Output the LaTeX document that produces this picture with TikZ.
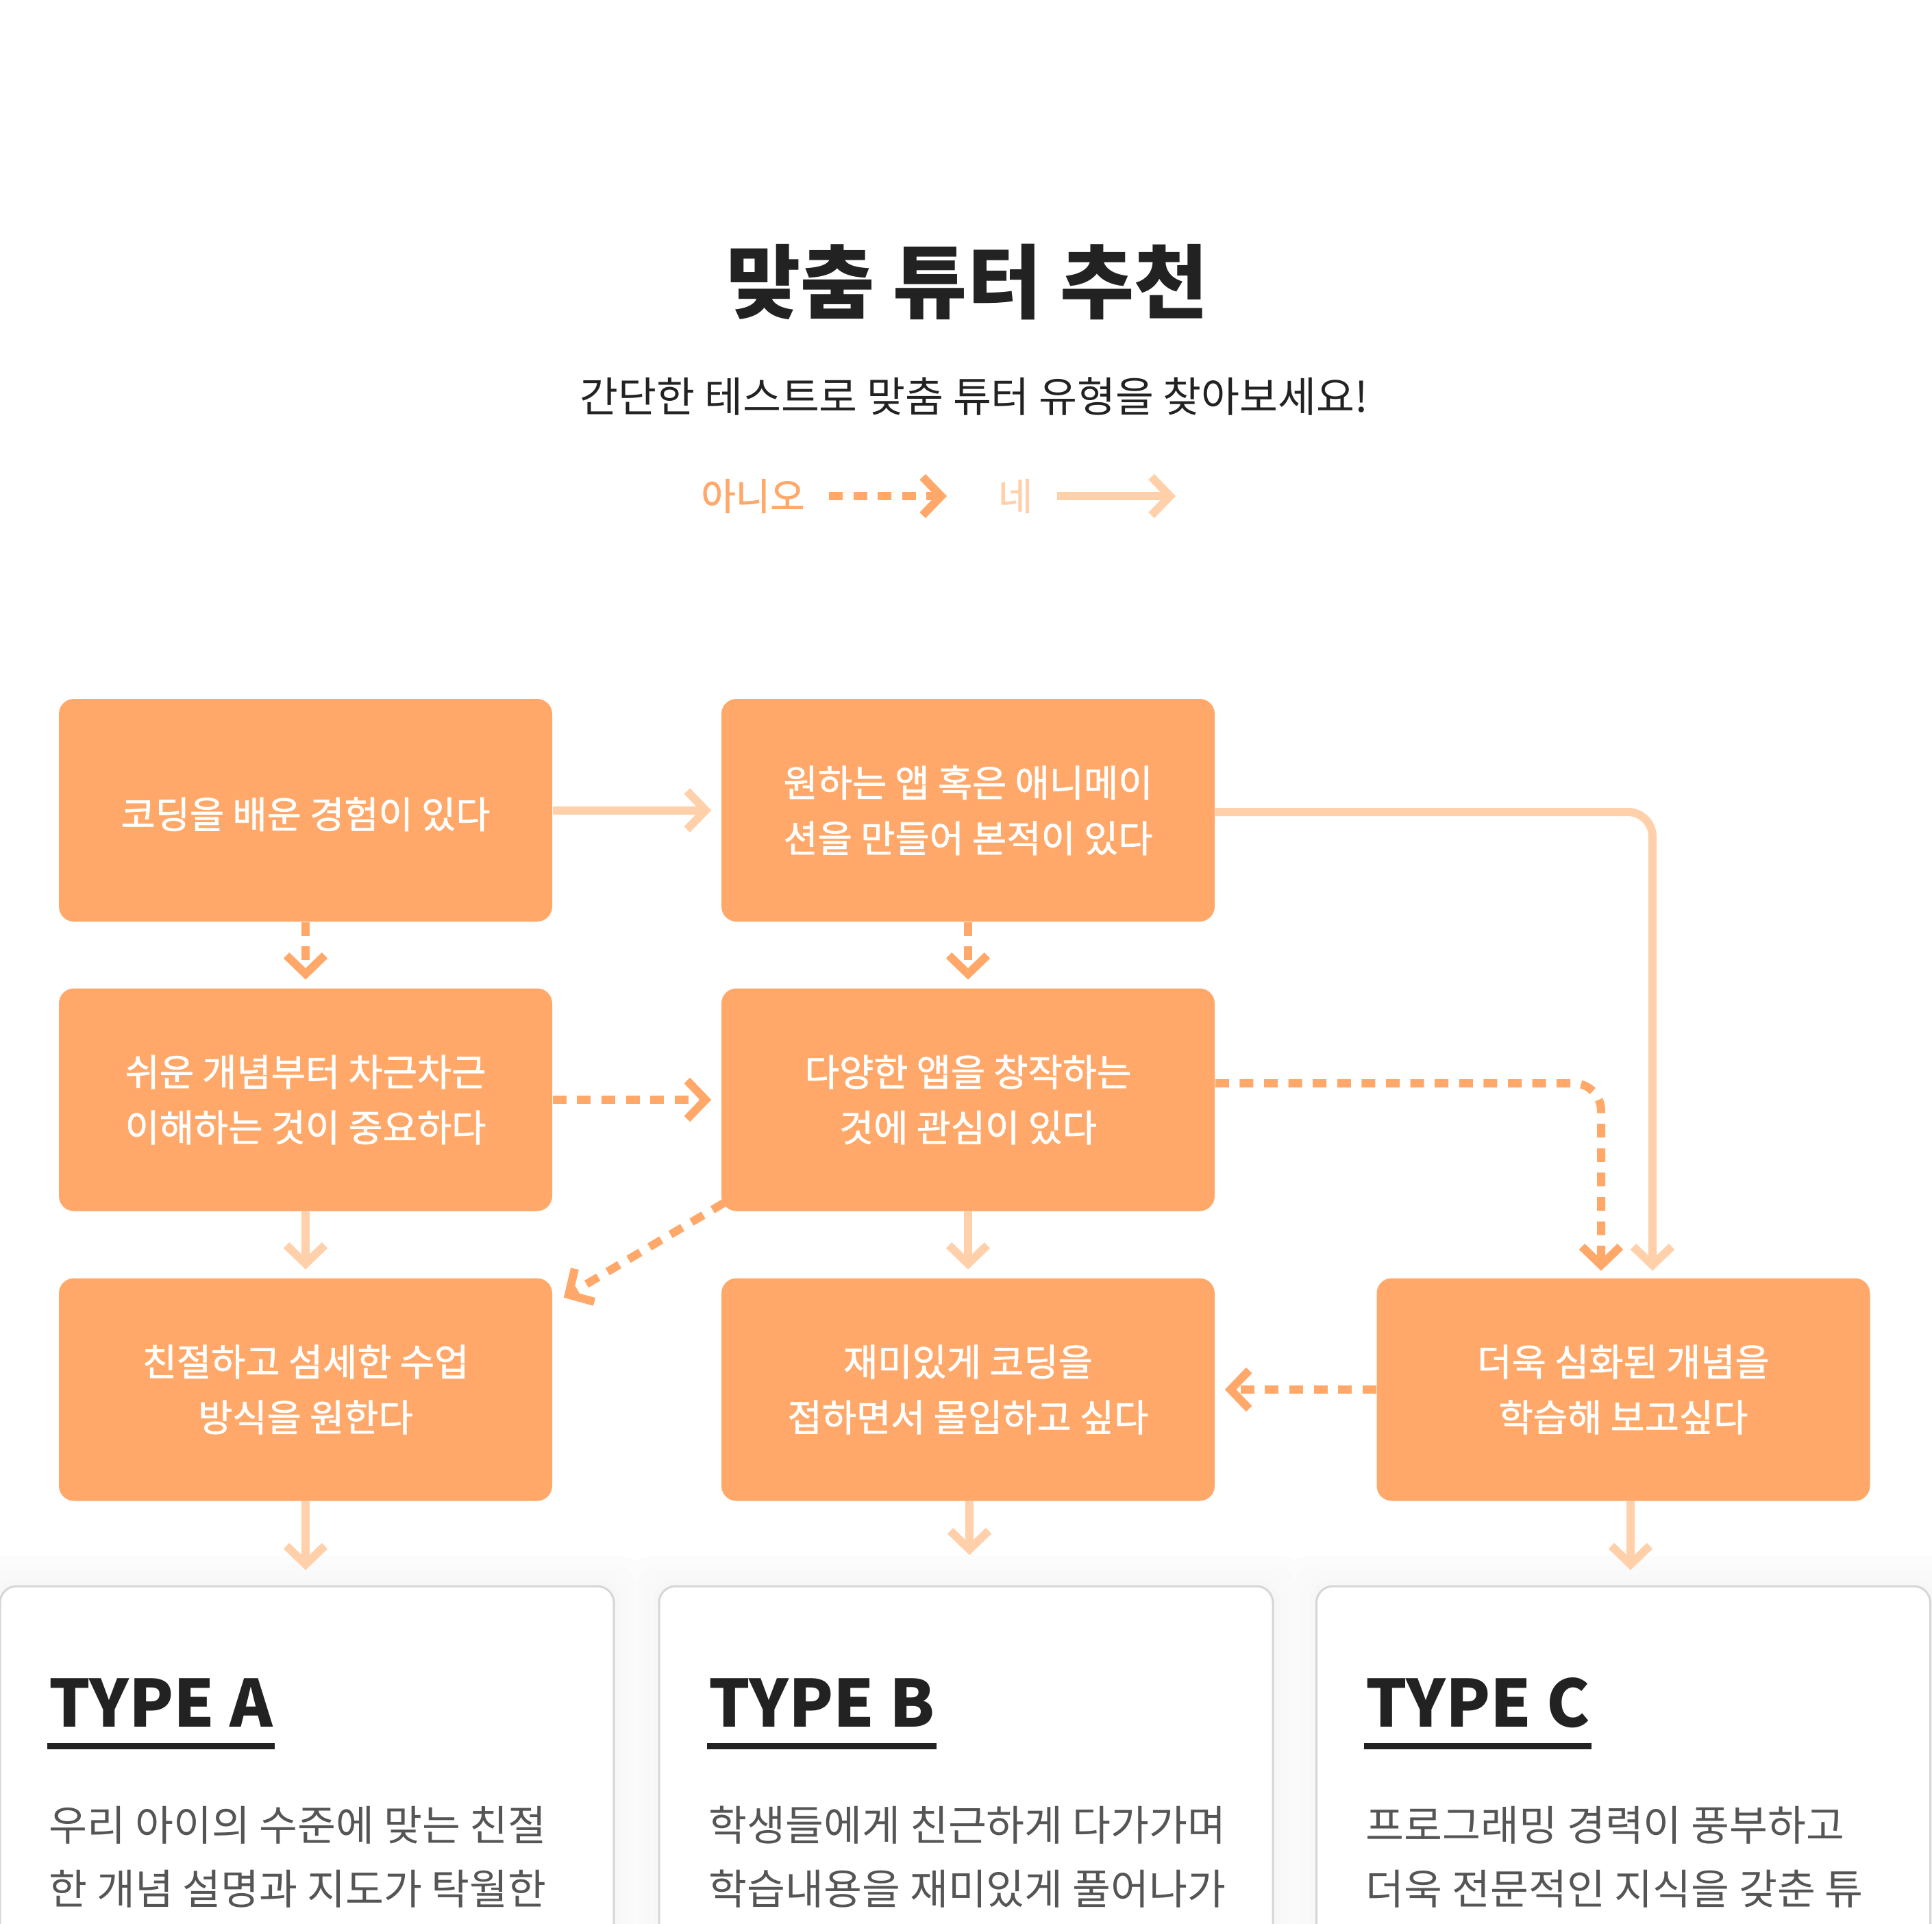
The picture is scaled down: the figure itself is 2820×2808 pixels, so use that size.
\documentclass[tikz,border=0pt]{standalone}
\usepackage{fontspec}
\setmainfont{Noto Sans CJK KR}
\newfontfamily\medfont{Noto Sans CJK KR}[FakeBold=1.3]
\usetikzlibrary{arrows.meta}
\definecolor{boxc}{HTML}{FFA869}
\definecolor{yesc}{HTML}{FFD0AA}
\definecolor{titlec}{HTML}{222222}
\definecolor{bodyc}{HTML}{555555}
\definecolor{cardline}{HTML}{D6D6D6}
\begin{document}
\begin{tikzpicture}[x=0.25pt,y=-0.25pt,
  flow/.style={rectangle, rounded corners=5.5pt, fill=boxc, text=white,
    minimum width=180pt, minimum height=81.25pt, inner sep=0pt, align=center,
    font=\medfont\fontsize{13.65}{20.25}\selectfont},
  yesline/.style={draw=yesc, line width=3pt, -{Straight Barb[length=6.75pt,width=14pt]}},
  noline/.style={draw=boxc, line width=3pt, dash pattern=on 5pt off 3.9pt,
    -{Straight Barb[length=6.75pt,width=14pt]}},
  card/.style={rectangle, rounded corners=6pt, draw=cardline, line width=0.75pt,
    fill=white, minimum width=224pt, minimum height=150pt, inner sep=0pt},
  typelbl/.style={anchor=base west, inner sep=0pt, text=titlec,
    font=\bfseries\fontsize{23.75}{28}\selectfont},
  bodyline/.style={anchor=base west, inner sep=0pt, text=bodyc,
    font=\fontsize{15.2}{20}\selectfont},
  uline/.style={draw=titlec, line width=2.25pt}
]
\useasboundingbox (0,0) rectangle (2820,2808);
\fill[white] (0,0) rectangle (2820,2808);

% title
\node[inner sep=0pt, text=titlec, font=\bfseries\fontsize{29.4}{36}\selectfont] (title) at (1412,412) {맞춤 튜터 추천};
\node[inner sep=0pt, text=titlec, font=\fontsize{15.2}{18}\selectfont] (sub) at (1422,579) {간단한 테스트로 맞춤 튜터 유형을 찾아보세요!};

% legend
\node[inner sep=0pt, text=boxc, font=\medfont\fontsize{13.7}{16}\selectfont] (lno) at (1099,724) {아니오};
\node[inner sep=0pt, text=yesc, font=\medfont\fontsize{13.7}{16}\selectfont] (lyes) at (1482,724) {네};
\coordinate (lna) at (1210,724);
\coordinate (lnb) at (1382,724);
\coordinate (lya) at (1543,724);
\coordinate (lyb) at (1716,724);
\draw[noline] (lna) -- (lnb);
\draw[yesline] (lya) -- (lyb);

% cards (shadow + card)
\foreach \e/\c in {44/black!1.2, 32/black!1.8, 20/black!2.4, 9/black!3}{
  \fill[\c, rounded corners=8pt] (0-\e,2315-\e) rectangle (896+\e,2950);
  \fill[\c, rounded corners=8pt] (962-\e,2315-\e) rectangle (1858+\e,2950);
  \fill[\c, rounded corners=8pt] (1921-\e,2315-\e) rectangle (2818+\e,2950);
}
\node[card] (cA) at (448,2615) {};
\node[card] (cB) at (1410,2615) {};
\node[card] (cC) at (2369.5,2615) {};

% flow boxes
\node[flow] (b1) at (446,1182.5) {\raisebox{-1.4pt}[\height][\depth]{코딩을 배운 경험이 있다}};
\node[flow] (b2) at (1413,1182.5) {원하는 앱 혹은 애니메이\\션을 만들어 본적이 있다};
\node[flow] (b4) at (446,1605) {쉬운 개념부터 차근차근\\이해하는 것이 중요하다};
\node[flow] (b5) at (1413,1605) {다양한 앱을 창작하는\\것에 관심이 있다};
\node[flow] (b7) at (446,2028) {친절하고 섬세한 수업\\방식을 원한다};
\node[flow] (b8) at (1413,2028) {재미있게 코딩을\\접하면서 몰입하고 싶다};
\node[flow] (b9) at (2369.5,2028) {더욱 심화된 개념을\\학습해 보고싶다};

\coordinate (aA) at ([shift={(0,-22)}]cA.north);
\coordinate (aB) at ([shift={(0,-22)}]cB.north);
\coordinate (aC) at ([shift={(10.5,-22)}]cC.north);

% yes connectors
\draw[yesline] (b1.east) -- ([shift={(-14,0)}]b2.west);
\draw[yesline, rounded corners=9pt] ([shift={(0,2.5)}]b2.east) -| ([shift={(42.5,-10)}]b9.north);
\draw[yesline] (b4.south) -- ([shift={(0,-12)}]b7.north);
\draw[yesline] (b5.south) -- ([shift={(0,-12)}]b8.north);
\draw[yesline] (b7.south) -- (b7.south |- aA);
\draw[yesline] ([shift={(2,0)}]b8.south) -- ([shift={(2,-22)}]b8.south |- aB);
\draw[yesline] ([shift={(10.5,0)}]b9.south) -- (aC);

% no connectors
\draw[noline] (b1.south) -- ([shift={(0,-12)}]b4.north);
\draw[noline] (b2.south) -- ([shift={(0,-12)}]b5.north);
\draw[noline] (b4.east) -- ([shift={(-14,0)}]b5.west);
\draw[noline, rounded corners=10pt] ([shift={(0,-24)}]b5.east) -| ([shift={(-32.5,-10)}]b9.north);
\draw[noline] ([shift={(5,-13)}]b5.south west) -- ([shift={(16,29)}]b7.north east);
\draw[noline] (b9.west) -- ([shift={(14,0)}]b8.east);

% card contents
\node[typelbl] (tA) at (71,2520) {TYPE A};
\node[typelbl] (tB) at (1034,2520) {TYPE B};
\node[typelbl] (tC) at (1993,2520) {TYPE C};
\draw[uline] ([shift={(-2,28.5)}]tA.base west) -- ([shift={(2,28.5)}]tA.base east);
\draw[uline] ([shift={(-2,28.5)}]tB.base west) -- ([shift={(2,28.5)}]tB.base east);
\draw[uline] ([shift={(-2,28.5)}]tC.base west) -- ([shift={(2,28.5)}]tC.base east);

\node[bodyline] (pA1) at (71,2686) {우리 아이의 수준에 맞는 친절};
\node[bodyline] (pA2) at (71,2779) {한 개념 설명과 지도가 탁월한};
\node[bodyline] (pB1) at (1034,2686) {학생들에게 친근하게 다가가며};
\node[bodyline] (pB2) at (1034,2779) {학습내용을 재미있게 풀어나가};
\node[bodyline] (pC1) at (1993,2686) {프로그래밍 경력이 풍부하고};
\node[bodyline] (pC2) at (1993,2779) {더욱 전문적인 지식을 갖춘 튜};
\end{tikzpicture}
\end{document}
